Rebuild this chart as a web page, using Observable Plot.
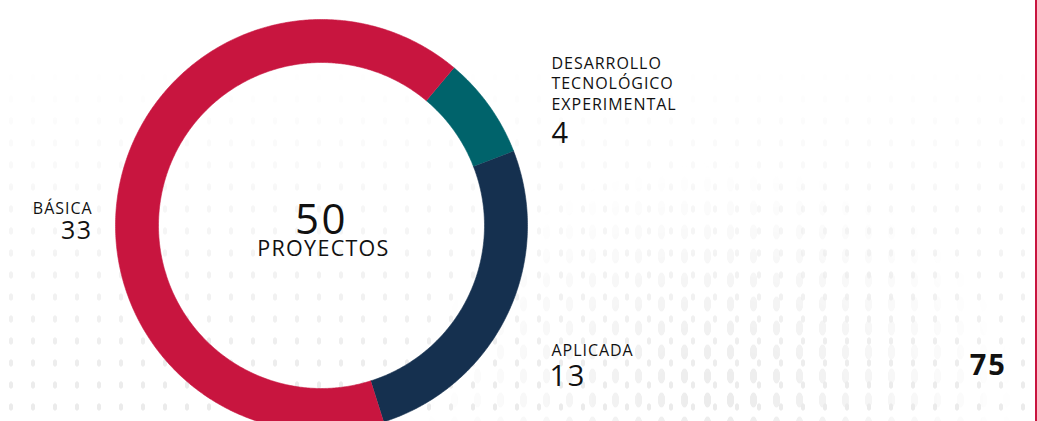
<!DOCTYPE html>
<html><head><meta charset="utf-8">
<script src="https://cdn.jsdelivr.net/npm/d3@7"></script>
<script src="https://cdn.jsdelivr.net/npm/@observablehq/plot@0.6"></script>
<style>
html,body{margin:0;padding:0;background:#fff;}
#wrap{position:relative;width:1037px;height:421px;overflow:hidden;}
.dots{position:absolute;inset:0;}
#dotsA{
  background-image:radial-gradient(ellipse 2.5px 4px at center,#ebebeb 80%,rgba(235,235,235,0) 100%);
  background-size:22px 22px;
  -webkit-mask-image:linear-gradient(to bottom,rgba(0,0,0,0) 15%,rgba(0,0,0,0.45) 50%,#000 95%);
  mask-image:linear-gradient(to bottom,rgba(0,0,0,0) 15%,rgba(0,0,0,0.45) 50%,#000 95%);}
#dotsB{
  background-image:radial-gradient(ellipse 4px 8px at center,#ebebeb 85%,rgba(235,235,235,0) 100%);
  background-size:23px 24px;background-position:6px 4px;
  -webkit-mask-image:radial-gradient(ellipse 300px 240px at 720px 400px,#000 0%,rgba(0,0,0,0) 100%);
  mask-image:radial-gradient(ellipse 300px 240px at 720px 400px,#000 0%,rgba(0,0,0,0) 100%);}
#edge{position:absolute;top:0;right:0;width:2px;height:100%;background:#c8153f;}
#chart{position:absolute;left:0;top:0;}
svg text{letter-spacing:0.06em;}
</style></head>
<body><div id="wrap"><div class="dots" id="dotsA"></div><div class="dots" id="dotsB"></div><div id="chart"></div><div id="edge"></div></div>
<script>
// ---- data ----
const categories = ["DESARROLLO\nTECNOLÓGICO\nEXPERIMENTAL", "APLICADA", "BÁSICA"];
const values = [4, 13, 33];
const colors = ["#00636b", "#15304f", "#c8153f"];
const centerLabel = "PROYECTOS";
const pageNumber = "75";

// ---- layout (pixels) ----
const W = 1037, H = 421;
const cx = 321, cy = 225, R = 206, rInner = 163;
const startDeg = 40;
const ux = px => (px - cx) / R, uy = py => (cy - py) / R;
const labelLayout = [
  {nameX: 551, nameY: 109, valueX: 551, valueY: 142, anchor: "start", valueSize: 29},
  {nameX: 551, nameY: 355, valueX: 549, valueY: 385, anchor: "start", valueSize: 29},
  {nameX: 92, nameY: 213, valueX: 92, valueY: 238, anchor: "end", valueSize: 25}
];

// ---- geometry from data ----
const a0 = startDeg * Math.PI / 180;
const pie = d3.pie().sort(null).value(d => d.value).startAngle(a0).endAngle(a0 + 2 * Math.PI);
const slices = pie(categories.map((c, i) => ({cat: c, value: values[i]})));
const inner = rInner / R;
const ring = [];
for (const s of slices) {
  const n = Math.max(2, Math.ceil((s.endAngle - s.startAngle) / (Math.PI / 360)));
  for (let k = 0; k <= n; k++) {
    const a = s.startAngle + (s.endAngle - s.startAngle) * k / n;
    ring.push({cat: s.data.cat, x: Math.sin(a), y: Math.cos(a)});
  }
  for (let k = n; k >= 0; k--) {
    const a = s.startAngle + (s.endAngle - s.startAngle) * k / n;
    ring.push({cat: s.data.cat, x: inner * Math.sin(a), y: inner * Math.cos(a)});
  }
}
const labels = categories.map((c, i) => ({cat: c, value: values[i], ...labelLayout[i]}));
const total = d3.sum(values);

const ink = "#111111";
const plot = Plot.plot({
  width: W, height: H, margin: 0,
  x: {domain: [ux(0), ux(W)], axis: null},
  y: {domain: [uy(H), uy(0)], axis: null},
  color: {domain: categories, range: colors},
  style: {background: "transparent", fontFamily: "'Open Sans', sans-serif", overflow: "visible"},
  marks: [
    Plot.line(ring, {x: "x", y: "y", z: "cat", fill: "cat", stroke: "cat", strokeWidth: 0.6, curve: "linear"}),
    Plot.text([String(total)], {x: () => 0, y: () => uy(233), text: d => d, fontSize: 42, fontWeight: 400, fill: ink, textAnchor: "middle", lineAnchor: "bottom"}),
    Plot.text([centerLabel], {x: () => ux(323), y: () => uy(255), text: d => d, fontSize: 21.5, fill: ink, textAnchor: "middle", lineAnchor: "bottom"}),
    ...labels.map(d => Plot.text([d], {x: () => ux(d.nameX), y: () => uy(d.nameY), text: "cat", fontSize: 16, fontWeight: 500, lineHeight: 1.28, fill: ink, textAnchor: d.anchor, lineAnchor: "bottom"})),
    ...labels.map(d => Plot.text([d], {x: () => ux(d.valueX), y: () => uy(d.valueY), text: d => String(d.value), fontSize: d.valueSize, fontWeight: 400, fill: ink, textAnchor: d.anchor, lineAnchor: "bottom"})),
    Plot.text([pageNumber], {x: () => ux(1006), y: () => uy(374), text: d => d, fontSize: 29, fontWeight: 700, fill: ink, textAnchor: "end", lineAnchor: "bottom"})
  ]
});
document.getElementById("chart").appendChild(plot);
</script></body></html>
